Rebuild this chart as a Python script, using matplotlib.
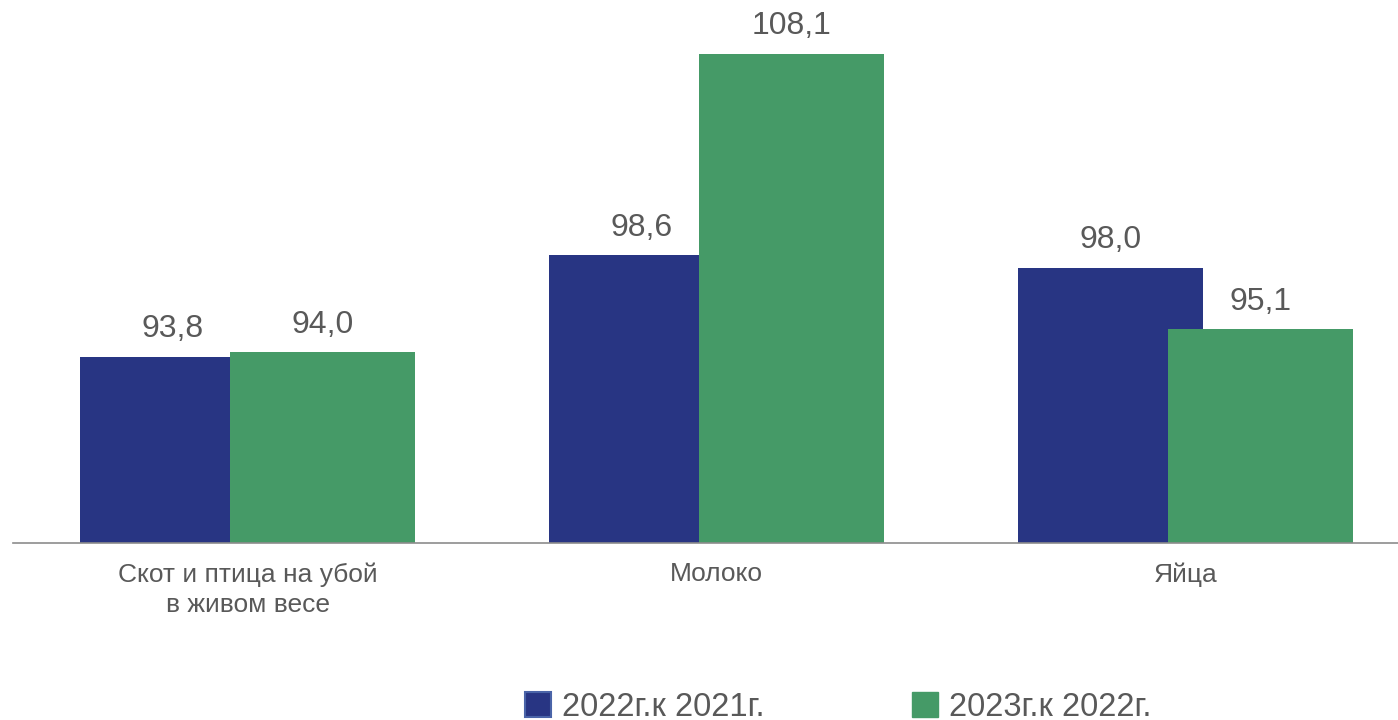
import matplotlib
matplotlib.use("Agg")
import matplotlib.pyplot as plt
from matplotlib.patches import Patch
import numpy as np

categories = ["Скот и птица на убой\nв живом весе", "Молоко", "Яйца"]
series_names = ["2022г.к 2021г.", "2023г.к 2022г."]
values_2022 = [93.8, 98.6, 98.0]
values_2023 = [94.0, 108.1, 95.1]
labels_2022 = ["93,8", "98,6", "98,0"]
labels_2023 = ["94,0", "108,1", "95,1"]

BLUE = "#283583"
GREEN = "#459A67"
TEXT = "#595959"

plt.rcParams['font.family'] = ['Liberation Sans', 'DejaVu Sans']

W, H = 1398, 720
fig = plt.figure(figsize=(W / 100, H / 100), dpi=100)
left_px, base_px, top_px = 13.0, 543, 0
spacing_px = 469.0
ax = fig.add_axes([left_px / W, 1 - base_px / H, 1 - left_px / W, (base_px - top_px) / H])

ymin = 85.0
px_per_unit = 21.17
ax.set_ylim(ymin, ymin + (base_px - top_px) / px_per_unit)
ax.set_xlim(-0.5, -0.5 + (W - left_px) / spacing_px)

x = np.arange(len(categories))
width = 0.394
off = 0.16
b1 = ax.bar(x - off, np.array(values_2022) - ymin, width, bottom=ymin, color=BLUE, zorder=2)
b2 = ax.bar(x + off, np.array(values_2023) - ymin, width, bottom=ymin, color=GREEN, zorder=3)

for bars, labs in ((b1, labels_2022), (b2, labels_2023)):
    for rect, lab in zip(bars, labs):
        ax.annotate(lab, (rect.get_x() + rect.get_width() / 2, rect.get_y() + rect.get_height()),
                    xytext=(0, 9), textcoords="offset points", ha="center", va="bottom",
                    fontsize=23, color=TEXT)

ax.set_xticks(x)
ax.set_xticklabels(categories, fontsize=19, color=TEXT, linespacing=1.3)
ax.tick_params(axis='x', length=0, pad=14)
ax.set_yticks([])
for s in ["top", "right", "left"]:
    ax.spines[s].set_visible(False)
ax.spines["bottom"].set_color("#8c8c8c")
ax.spines["bottom"].set_linewidth(1.2)
ax.spines["bottom"].set_zorder(4)

handles = [Patch(facecolor=BLUE, edgecolor="#4a64a8", linewidth=1.5),
           Patch(facecolor=GREEN, edgecolor=GREEN)]
fig.legend(handles, series_names, ncol=2, loc="center", bbox_to_anchor=(838 / W, 1 - 707 / H),
           frameon=False, fontsize=23.5, labelcolor=TEXT, handlelength=0.8, handleheight=0.8,
           handletextpad=0.34, columnspacing=4.5, borderpad=0, borderaxespad=0)

fig.savefig("out.png", dpi=100)
